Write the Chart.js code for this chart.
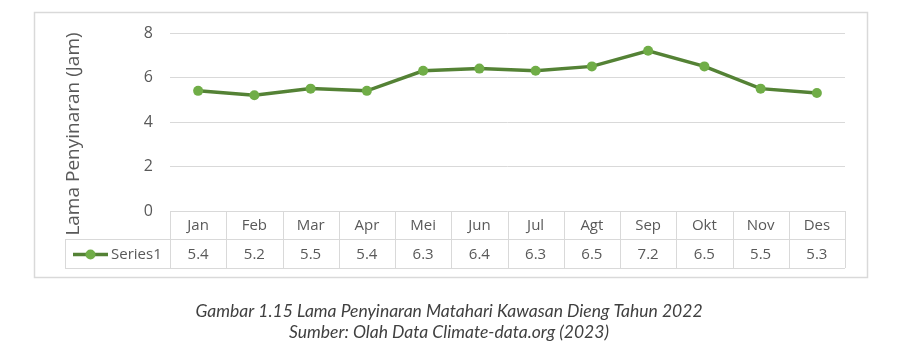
<!DOCTYPE html>
<html><head><meta charset="utf-8">
<script src="https://cdn.jsdelivr.net/npm/chart.js@4"></script>
<style>html,body{margin:0;padding:0;background:#fff;}#wrap{width:909px;height:356px;position:relative;}</style>
</head><body><div id="wrap"><canvas id="c" width="909" height="356"></canvas></div>
<script>
const categories = ["Jan","Feb","Mar","Apr","Mei","Jun","Jul","Agt","Sep","Okt","Nov","Des"];
const seriesName = "Series1";
const series1 = [5.4,5.2,5.5,5.4,6.3,6.4,6.3,6.5,7.2,6.5,5.5,5.3];
const yTicks = [0,2,4,6,8];
const yTitle = "Lama Penyinaran (Jam)";
const captionLines = ["Gambar 1.15 Lama Penyinaran Matahari Kawasan Dieng Tahun 2022","Sumber: Olah Data Climate-data.org (2023)"];

const FONT = "'Open Sans', sans-serif";
const GRID = "#d9d9d9";
const TXT = "#595959";
const LINE = "#548235";
const MARK = "#70ad47";

const tablePlugin = {
  id: "tablePlugin",
  beforeDraw(chart){
    const ctx = chart.ctx;
    ctx.save();
    ctx.fillStyle="#fff"; ctx.fillRect(0,0,chart.width,chart.height);
    ctx.strokeStyle="#d9d9d9"; ctx.lineWidth=1.5;
    ctx.strokeRect(34.5,12.5,833,265);
    ctx.restore();
  },
  afterDraw(chart){
    const ctx = chart.ctx, xs = chart.scales.x, ca = chart.chartArea;
    const n = categories.length;
    const colW = (ca.right-ca.left)/n;
    const r1t = ca.bottom, r1b = ca.bottom+28, r2b = r1b+29, legL = 65;
    ctx.save();
    ctx.strokeStyle = GRID; ctx.lineWidth = 1;
    ctx.beginPath();
    ctx.moveTo(ca.left, r1t+0.5); ctx.lineTo(ca.right, r1t+0.5);
    ctx.moveTo(legL, r1b+0.5); ctx.lineTo(ca.right, r1b+0.5);
    ctx.moveTo(legL, r2b+0.5); ctx.lineTo(ca.right, r2b+0.5);
    ctx.moveTo(legL+0.5, r1b); ctx.lineTo(legL+0.5, r2b);
    for(let i=0;i<=n;i++){
      const x = Math.round(xs.getPixelForValue(i) - colW/2)+0.5;
      ctx.moveTo(x, r1t); ctx.lineTo(x, r2b);
    }
    ctx.stroke();
    ctx.fillStyle = TXT; ctx.font = "15px "+FONT;
    ctx.textAlign="center"; ctx.textBaseline="middle";
    categories.forEach((c,i)=>{
      const x = xs.getPixelForValue(i);
      ctx.fillText(c, x, (r1t+r1b)/2+1);
      ctx.fillText(String(series1[i]), x, (r1b+r2b)/2+1);
    });
    // legend key
    const ly = (r1b+r2b)/2+1;
    ctx.strokeStyle = LINE; ctx.lineWidth = 3.5;
    ctx.beginPath(); ctx.moveTo(73, ly); ctx.lineTo(108, ly); ctx.stroke();
    ctx.fillStyle = MARK; ctx.beginPath(); ctx.arc(90.5, ly, 5, 0, Math.PI*2); ctx.fill();
    ctx.fillStyle = TXT; ctx.textAlign="left";
    ctx.fillText(seriesName, 111, ly);
    // y title
    ctx.save();
    ctx.translate(74, 134);
    ctx.rotate(-Math.PI/2);
    ctx.textAlign="center"; ctx.font = "19px "+FONT;
    ctx.fillText(yTitle, 0, 0);
    ctx.restore();
    // caption
    ctx.fillStyle = "#404040"; ctx.textAlign="center";
    ctx.font = "italic 17.5px Lato, sans-serif";
    ctx.fillText(captionLines[0], 449, 311);
    ctx.fillText(captionLines[1], 449, 332);
    ctx.restore();
  }
};

function build(){
new Chart(document.getElementById("c"), {
  type: "line",
  data: {
    labels: categories,
    datasets: [{
      label: seriesName,
      data: series1,
      borderColor: LINE,
      borderWidth: 3.5,
      pointBackgroundColor: MARK,
      pointBorderColor: MARK,
      pointRadius: 5,
      pointBorderWidth: 0,
      tension: 0
    }]
  },
  options: {
    responsive: false,
    animation: false,
    events: [],
    layout: { padding: { left: 60, top: 33, right: 64, bottom: 0 } },
    plugins: { legend: { display: false }, tooltip: { enabled: false } },
    scales: {
      x: {
        type: "category",
        offset: true,
        grid: { display: false, drawTicks: false },
        border: { display: false },
        ticks: { display: false },
        afterFit(s){ s.height = 356-211; }
      },
      y: {
        min: 0, max: 8,
        afterBuildTicks(s){ s.ticks = yTicks.map(v=>({value:v})); },
        grid: { color: (c)=> c.tick && c.tick.value===0 ? "rgba(0,0,0,0)" : GRID, drawTicks: false, lineWidth: 1 },
        border: { display: false },
        ticks: { color: TXT, font: { family: FONT, size: 16 }, padding: 17 },
        title: { display: false },
        afterFit(s){ s.width = 110; }
      }
    }
  },
  plugins: [tablePlugin]
});
}
Promise.all([
  document.fonts.load("15px 'Open Sans'"),
  document.fonts.load("italic 17px Lato")
]).catch(()=>{}).then(build);
</script></body></html>
